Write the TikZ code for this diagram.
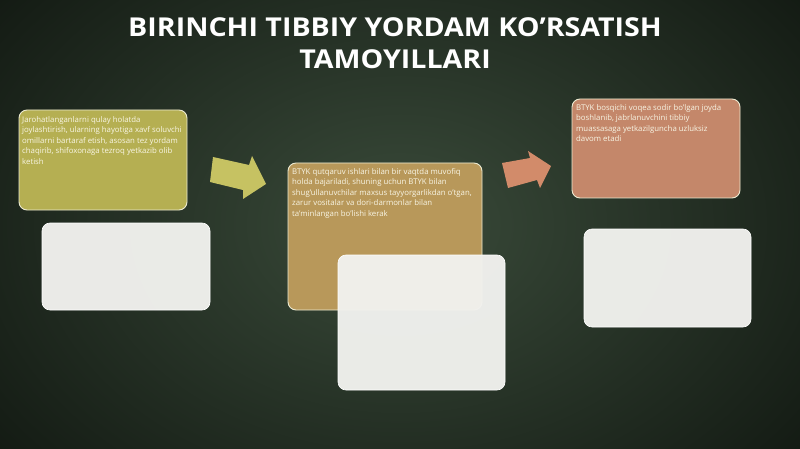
\documentclass[tikz,border=0pt]{standalone}
\usepackage{fontspec}
\usepackage{graphicx}
\setmainfont{Open Sans}
\definecolor{bgin}{HTML}{3A4B3A}
\definecolor{bgout}{HTML}{131A13}
\definecolor{olive}{HTML}{B5AF52}
\definecolor{tan}{HTML}{B8985A}
\definecolor{salmon}{HTML}{C4876A}
\definecolor{arrowA}{HTML}{C6C262}
\definecolor{arrowB}{HTML}{D28B6A}
\definecolor{edgec}{HTML}{EDEBD2}
\definecolor{txtc}{HTML}{F8F5E4}
\definecolor{panel}{HTML}{F1F1EE}
\tikzset{
  card/.style={draw=edgec, line width=0.9pt, rounded corners=8pt},
  blank/.style={fill=panel, fill opacity=0.97, draw=white, line width=0.6pt, rounded corners=8pt},
  cardtext/.style={anchor=north west, inner sep=0pt, align=flush left, text=txtc,
    font=\fontsize{7.8}{10.6}\selectfont},
  titletext/.style={anchor=base, text=white, font=\fontsize{26}{30}\selectfont\bfseries}
}
\begin{document}
\begin{tikzpicture}[x=1pt,y=-1pt]
\useasboundingbox (0,0) rectangle (800,449);
\shade[inner color=bgin, outer color=bgout] (-120,-150) rectangle (920,600);
\clip (0,0) rectangle (800,449);

% title
\node[titletext] (title1) at (395,37) {\scalebox{1.1}[1]{BIRINCHI TIBBIY YORDAM KO’RSATISH}};
\node[titletext] (title2) at (395,69) {\scalebox{1.1}[1]{TAMOYILLARI}};

% card 1
\draw[card, fill=olive] (19,110) rectangle (187,210);
\node[cardtext, text width=162pt] (t1) at (22,116) {Jarohatlanganlarni qulay holatda joylashtirish, ularning hayotiga xavf soluvchi omillarni bartaraf etish, asosan tez yordam chaqirib, shifoxonaga tezroq yetkazib olib ketish};
\draw[blank] (42,223) rectangle (210,310);

% arrow 1
\fill[arrowA] (213,157) -- (249,165) -- (252,156) -- (266,184) -- (243,199) -- (243,190) -- (210,182) -- cycle;

% card 2
\draw[card, fill=tan] (288,163) rectangle (482,310);
\node[cardtext, text width=182pt] (t2) at (292,168) {BTYK qutqaruv ishlari bilan bir vaqtda muvofiq holda bajariladi, shuning uchun BTYK bilan shug’ullanuvchilar maxsus tayyorgarlikdan o’tgan, zarur vositalar va dori-darmonlar bilan ta’minlangan bo’lishi kerak};
\draw[blank] (338,255) rectangle (505,390);

% arrow 2
\fill[arrowB] (502,163) -- (530,158) -- (528,151) -- (551,166) -- (540,188) -- (537,180) -- (508,188) -- cycle;

% card 3
\draw[card, fill=salmon] (572,99) rectangle (740,198);
\node[cardtext, text width=152pt] (t3) at (576,104) {BTYK bosqichi voqea sodir bo’lgan joyda boshlanib, jabrlanuvchini tibbiy muassasaga yetkazilguncha uzluksiz davom etadi};
\draw[blank] (584,229) rectangle (751,327);
\end{tikzpicture}
\end{document}
